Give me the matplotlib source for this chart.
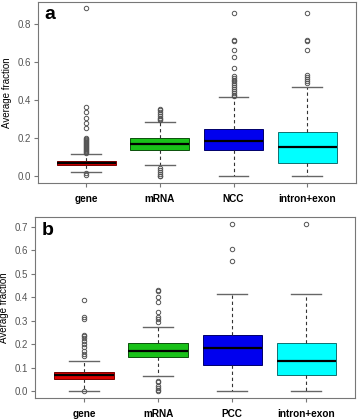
import matplotlib
matplotlib.use("Agg")
import matplotlib.pyplot as plt

plt.rcParams['font.family'] = ['Liberation Sans', 'DejaVu Sans']

# panel a
labels_a = ['gene', 'mRNA', 'NCC', 'intron+exon']
q1_a = [0.058, 0.140, 0.138, 0.073]
med_a = [0.070, 0.173, 0.189, 0.156]
q3_a = [0.082, 0.201, 0.250, 0.234]
lo_a = [0.023, 0.058, 0.002, 0.0]
hi_a = [0.119, 0.285, 0.418, 0.471]
fl_a = [
    [0.887, 0.364, 0.338, 0.31, 0.28, 0.254, 0.20, 0.195, 0.19, 0.185, 0.18,
     0.175, 0.17, 0.165, 0.16, 0.155, 0.15, 0.145, 0.14, 0.135, 0.13, 0.125,
     0.016, 0.007],
    [0.355, 0.35, 0.34, 0.33, 0.32, 0.31, 0.30, 0.295,
     0.045, 0.035, 0.025, 0.015, 0.005, 0.0],
    [0.859, 0.717, 0.714, 0.665, 0.63, 0.572, 0.53, 0.52, 0.51, 0.50, 0.49,
     0.48, 0.47, 0.46, 0.45, 0.44, 0.43, 0.425],
    [0.859, 0.717, 0.714, 0.665, 0.534, 0.525, 0.515, 0.50, 0.49],
]

# panel b
labels_b = ['gene', 'mRNA', 'PCC', 'intron+exon']
q1_b = [0.052, 0.145, 0.112, 0.070]
med_b = [0.069, 0.174, 0.186, 0.131]
q3_b = [0.084, 0.204, 0.239, 0.208]
lo_b = [0.004, 0.065, 0.0, 0.0]
hi_b = [0.128, 0.274, 0.415, 0.415]
fl_b = [
    [0.387, 0.316, 0.309, 0.240, 0.236, 0.229, 0.215, 0.201, 0.187, 0.173,
     0.159, 0.152, 0.001],
    [0.433, 0.427, 0.402, 0.381, 0.337, 0.316, 0.306, 0.294,
     0.045, 0.039, 0.025, 0.015, 0.007, 0.001],
    [0.711, 0.604, 0.555],
    [0.711],
]

fills = ['#dd0000', '#19c119', '#0000ee', '#00ffff']
edges = ['#7a0000', '#0a500a', '#00006a', '#107070']


def draw_panel(ax, labels, q1, med, q3, lo, hi, fl, letter):
    stats = []
    for i in range(len(labels)):
        stats.append(dict(q1=q1[i], med=med[i], q3=q3[i], whislo=lo[i],
                          whishi=hi[i], fliers=fl[i], label=labels[i]))
    bp = ax.bxp(stats, widths=0.8, patch_artist=True, showfliers=True,
                medianprops=dict(color='black', lw=1.6),
                whiskerprops=dict(color='#333333', lw=0.8, linestyle=(0, (3, 2.5))),
                capprops=dict(color='#666666', lw=1),
                flierprops=dict(marker='o', markersize=3.2, markerfacecolor='none',
                                markeredgecolor='#555555', markeredgewidth=0.7))
    # R-style staples: half the box width
    for cap in bp['caps']:
        x = cap.get_xdata()
        c = (x[0] + x[1]) / 2
        cap.set_xdata([c - 0.2, c + 0.2])
    for box, fc, ec in zip(bp['boxes'], fills, edges):
        box.set_facecolor(fc)
        box.set_edgecolor(ec)
        box.set_linewidth(0.7)
    ax.set_xlim(0.34, 4.66)
    for s in ax.spines.values():
        s.set_color('#777777')
        s.set_linewidth(0.8)
    ax.tick_params(axis='y', colors='#777777', labelcolor='#555555',
                   labelsize=7, length=3, width=0.8, pad=2)
    ax.tick_params(axis='x', colors='#777777', labelcolor='black',
                   labelsize=7.2, length=3, width=0.8, pad=5)
    for t in ax.get_xticklabels():
        t.set_fontweight('bold')
    ax.set_ylabel('Average fraction', fontsize=7, labelpad=4)
    ax.text(0.02, 0.975, letter, transform=ax.transAxes, fontsize=14,
            fontweight='bold', va='top', ha='left')


fig = plt.figure(figsize=(3.58, 4.2), dpi=100)
ax_a = fig.add_axes([0.105, 0.564, 0.889, 0.432])
ax_b = fig.add_axes([0.098, 0.052, 0.894, 0.431])

draw_panel(ax_a, labels_a, q1_a, med_a, q3_a, lo_a, hi_a, fl_a, 'a')
ax_a.set_ylim(-0.035, 0.92)
ax_a.set_yticks([0.0, 0.2, 0.4, 0.6, 0.8])
ax_a.set_yticklabels(['0.0', '0.2', '0.4', '0.6', '0.8'])

draw_panel(ax_b, labels_b, q1_b, med_b, q3_b, lo_b, hi_b, fl_b, 'b')
ax_b.set_ylim(-0.0285, 0.741)
ax_b.set_yticks([0.0, 0.1, 0.2, 0.3, 0.4, 0.5, 0.6, 0.7])
ax_b.set_yticklabels(['0.0', '0.1', '0.2', '0.3', '0.4', '0.5', '0.6', '0.7'])

fig.savefig('out.png', dpi=100)
